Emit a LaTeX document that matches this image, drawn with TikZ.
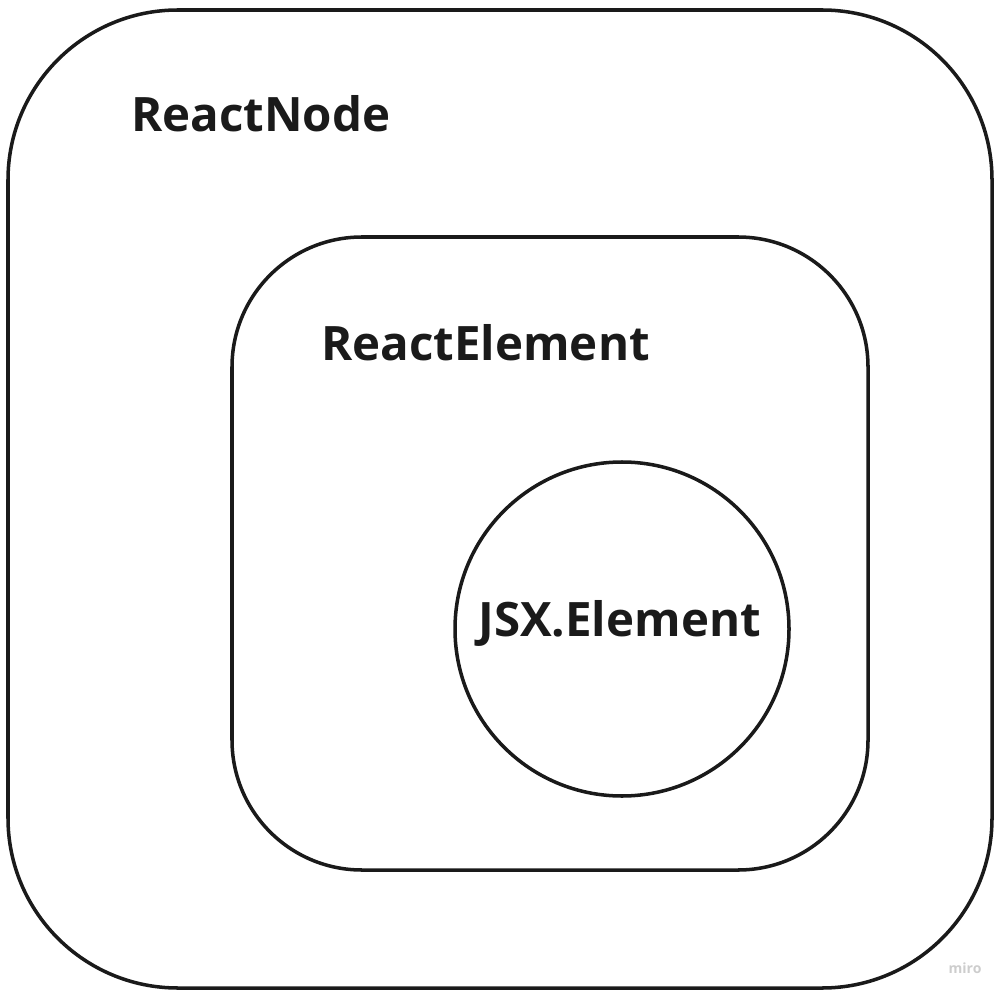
\documentclass[tikz,border=0pt]{standalone}
\usepackage{fontspec}
\setmainfont{Open Sans}
\usepackage{xcolor}
\usetikzlibrary{positioning}
\definecolor{rxink}{RGB}{26,26,26}
\definecolor{rxmark}{RGB}{205,205,205}
\tikzset{
    setbox/.style={
        draw=rxink,line width=2pt,rounded corners=#1,
        inner sep=0pt
    },
    setbox/.default=3cm,
    setlabel/.style={
        anchor=base west,inner sep=0pt,text=rxink,
        font=\fontsize{27}{31}\selectfont\bfseries
    }
}

\begin{document}
\begin{tikzpicture}[x=0.02cm,y=-0.02cm]

\useasboundingbox (0,0) rectangle (1003,996);

\node[setbox=3.4cm,minimum width=984*0.02cm,minimum height=978*0.02cm]
(node) at (500,499){};

\node[setbox=2.6cm,minimum width=636*0.02cm,minimum height=633*0.02cm]
(element) at (550,553.5){};

\node[draw=rxink,line width=2pt,circle,minimum size=334*0.02cm,inner sep=0pt]
(jsx) at (622,629){};

\node[setlabel](nodelbl) at (131,132){ReactNode};
\node[setlabel](elementlbl) at (321,361){ReactElement};
\node[setlabel](jsxlbl) at (478,636){JSX.Element};

\node[text=rxmark,font=\fontsize{8}{9}\selectfont\bfseries]
(miro) at (965,968){miro};

\end{tikzpicture}
\end{document}
